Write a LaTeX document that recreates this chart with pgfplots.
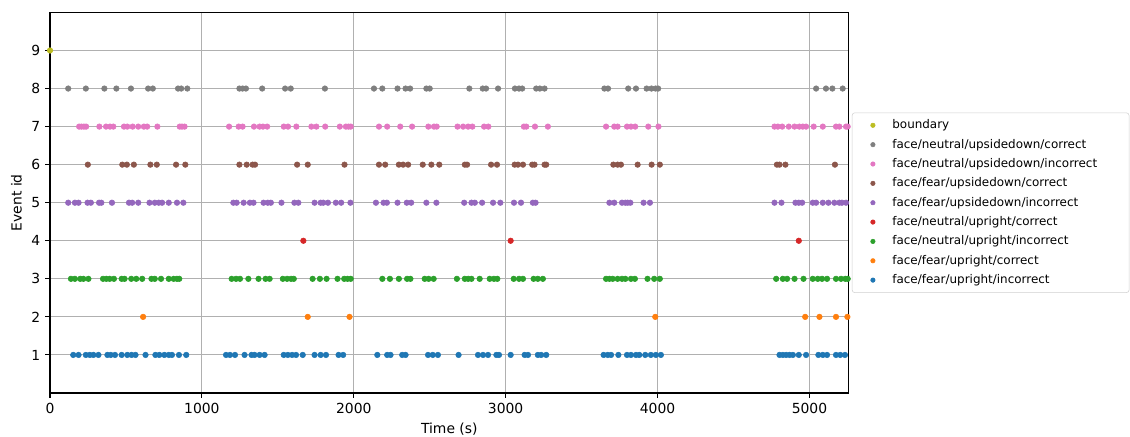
\documentclass[border=0pt]{standalone}
\usepackage{fontspec}
\setmainfont{DejaVu Sans}
\usepackage{pgfplots}
\pgfplotsset{compat=1.18}
\definecolor{tblue}{HTML}{1F77B4}
\definecolor{torange}{HTML}{FF7F0E}
\definecolor{tgreen}{HTML}{2CA02C}
\definecolor{tred}{HTML}{D62728}
\definecolor{tpurple}{HTML}{9467BD}
\definecolor{tbrown}{HTML}{8C564B}
\definecolor{tpink}{HTML}{E377C2}
\definecolor{tgray}{HTML}{7F7F7F}
\definecolor{tolive}{HTML}{BCBD22}
\begin{document}
\begin{tikzpicture}
\begin{axis}[
    name=ax,
    scale only axis, width=575pt, height=274pt,
    xmin=0, xmax=5258, ymin=0, ymax=10,
    xtick={0,1000,...,5000}, ytick={1,...,9},
    xtick pos=bottom, ytick pos=left,
    grid=major, grid style={color=black!31, line width=0.8pt},
    axis line style={line width=0.8pt},
    tick align=outside, major tick length=3.5pt,
    tick style={black, line width=0.8pt},
    ticklabel style={font=\fontsize{10}{12}\selectfont},
    /pgf/number format/assume math mode=true,
    /pgf/number format/1000 sep={},
    label style={font=\fontsize{10}{12}\selectfont},
    xlabel={Time (s)}, ylabel={Event id},
    every axis plot/.append style={only marks, mark=*, mark size=2pt},
    legend style={at={(1.004,0.5)}, anchor=west, draw=black!18, rounded corners=2pt,
        font=\fontsize{8.6}{10}\selectfont, row sep=1.9pt, inner xsep=3pt, inner ysep=3pt},
    legend cell align=left,
    legend image code/.code={
        \path[draw=none,fill=none] (0pt,-2pt) rectangle (24pt,2pt);
        \draw[#1,mark size=1.6pt] plot coordinates {(12pt,0pt)};
    },
]
% 9 boundary
\addplot[color=tolive] coordinates {(0,9)};
% 8
\addplot[color=tgray] coordinates {
(120,8)(236,8)(358,8)(437,8)(533,8)(646,8)(677,8)(843,8)(864,8)(904,8)(1247,8)(1268,8)(1290,8)
(1397,8)(1548,8)(1585,8)(1810,8)(2133,8)(2188,8)(2288,8)(2341,8)(2371,8)(2478,8)(2500,8)
(2761,8)(2849,8)(2871,8)(2950,8)(3061,8)(3088,8)(3109,8)(3201,8)(3225,8)(3256,8)
(3650,8)(3674,8)(3807,8)(3858,8)(3928,8)(3960,8)(3987,8)(4004,8)
(5044,8)(5109,8)(5151,8)(5219,8)};
% 7
\addplot[color=tpink] coordinates {
(192,7)(207,7)(223,7)(238,7)(325,7)(369,7)(395,7)(417,7)(487,7)(509,7)(544,7)(581,7)(618,7)(640,7)(707,7)(854,7)(869,7)(886,7)
(1179,7)(1242,7)(1268,7)(1343,7)(1380,7)(1402,7)(1430,7)(1539,7)(1567,7)(1622,7)(1721,7)(1754,7)(1812,7)(1908,7)(1948,7)(1965,7)(1980,7)
(2166,7)(2220,7)(2306,7)(2384,7)(2491,7)(2528,7)(2546,7)(2683,7)(2720,7)(2753,7)(2781,7)(2858,7)(2886,7)
(3120,7)(3136,7)(3193,7)(3278,7)(3661,7)(3715,7)(3737,7)(3799,7)(3825,7)(3853,7)(3939,7)(4006,7)
(4770,7)(4792,7)(4821,7)(4864,7)(4902,7)(4934,7)(4956,7)(4978,7)(5028,7)(5088,7)(5175,7)(5197,7)(5241,7)(5252,7)};
% 6
\addplot[color=tbrown] coordinates {
(249,6)(476,6)(506,6)(552,6)(661,6)(703,6)(830,6)(891,6)(1247,6)(1295,6)(1334,6)(1350,6)
(1627,6)(1697,6)(1939,6)(2166,6)(2207,6)(2297,6)(2325,6)(2358,6)(2454,6)(2511,6)(2563,6)
(2731,6)(2746,6)(2904,6)(2943,6)(3059,6)(3081,6)(3114,6)(3175,6)(3190,6)(3256,6)(3267,6)
(3709,6)(3737,6)(3759,6)(3869,6)(3961,6)(4015,6)(4786,6)(4803,6)(4842,6)(5168,6)};
% 5
\addplot[color=tpurple] coordinates {
(120,5)(164,5)(188,5)(247,5)(269,5)(323,5)(338,5)(408,5)(520,5)(541,5)(581,5)(655,5)(690,5)(716,5)(738,5)(782,5)(836,5)(878,5)
(1207,5)(1229,5)(1275,5)(1316,5)(1340,5)(1406,5)(1434,5)(1454,5)(1524,5)(1609,5)(1635,5)(1742,5)(1782,5)(1799,5)(1830,5)(1882,5)(1917,5)(1978,5)
(2146,5)(2196,5)(2218,5)(2288,5)(2349,5)(2378,5)(2478,5)(2544,5)
(2727,5)(2775,5)(2797,5)(2845,5)(2917,5)(2965,5)(3055,5)(3101,5)(3179,5)(3197,5)
(3683,5)(3715,5)(3766,5)(3788,5)(3803,5)(3821,5)(3908,5)(3950,5)
(4770,5)(4816,5)(4908,5)(4930,5)(4952,5)(5022,5)(5044,5)(5088,5)(5125,5)(5164,5)(5197,5)(5214,5)(5241,5)};
% 4
\addplot[color=tred] coordinates {(1668,4)(3033,4)(4930,4)};
% 3
\addplot[color=tgreen] coordinates {
(138,3)(164,3)(199,3)(220,3)(253,3)(349,3)(371,3)(393,3)(421,3)(472,3)(491,3)(535,3)(568,3)(607,3)(668,3)(690,3)(731,3)(782,3)(814,3)(836,3)(851,3)
(1196,3)(1225,3)(1251,3)(1306,3)(1373,3)(1419,3)(1446,3)(1533,3)(1561,3)(1587,3)(1605,3)(1729,3)(1777,3)(1821,3)(1893,3)(1937,3)(1959,3)(1980,3)
(2188,3)(2238,3)(2297,3)(2351,3)(2373,3)(2467,3)(2493,3)(2526,3)(2679,3)
(2731,3)(2753,3)(2775,3)(2829,3)(2895,3)(2923,3)(2945,3)(3053,3)(3088,3)(3114,3)(3184,3)(3212,3)(3245,3)
(3661,3)(3683,3)(3705,3)(3737,3)(3766,3)(3788,3)(3825,3)(3851,3)(3934,3)(3978,3)(4015,3)
(4781,3)(4825,3)(4853,3)(4902,3)(4961,3)(5022,3)(5055,3)(5083,3)(5116,3)(5175,3)(5208,3)(5236,3)(5252,3)};
% 2
\addplot[color=torange] coordinates {(613,2)(1697,2)(1972,2)(3985,2)(4972,2)(5066,2)(5175,2)(5250,2)};
% 1
\addplot[color=tblue] coordinates {
(153,1)(188,1)(236,1)(262,1)(286,1)(319,1)(378,1)(400,1)(428,1)(472,1)(509,1)(537,1)(563,1)(629,1)(694,1)(720,1)(753,1)(782,1)(803,1)(849,1)(897,1)
(1159,1)(1185,1)(1218,1)(1281,1)(1327,1)(1347,1)(1380,1)(1413,1)(1539,1)(1566,1)(1594,1)(1620,1)(1664,1)(1742,1)(1782,1)(1817,1)(1900,1)(1930,1)
(2155,1)(2220,1)(2242,1)(2319,1)(2341,1)(2489,1)(2520,1)(2554,1)(2690,1)
(2818,1)(2851,1)(2884,1)(2939,1)(2956,1)(3033,1)(3125,1)(3147,1)(3212,1)(3234,1)(3267,1)
(3645,1)(3672,1)(3694,1)(3742,1)(3799,1)(3825,1)(3858,1)(3880,1)(3919,1)(3956,1)(3989,1)(4022,1)
(4803,1)(4825,1)(4847,1)(4869,1)(4891,1)(4930,1)(4978,1)(5059,1)(5088,1)(5116,1)(5175,1)(5203,1)(5234,1)};
\legend{boundary,face/neutral/upsidedown/correct,face/neutral/upsidedown/incorrect\kern18pt,face/fear/upsidedown/correct,face/fear/upsidedown/incorrect,face/neutral/upright/correct,face/neutral/upright/incorrect,face/fear/upright/correct,face/fear/upright/incorrect}
\end{axis}
\pgfresetboundingbox
\path (ax.south west) ++(-36pt,-31.68pt) rectangle ++(813.6pt,314.64pt);
\end{tikzpicture}
\end{document}
